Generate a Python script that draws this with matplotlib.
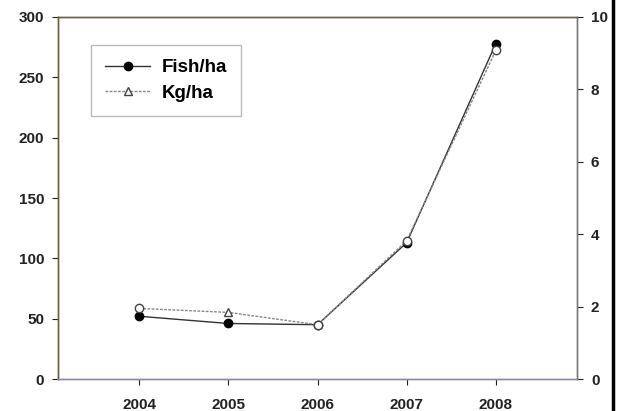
import matplotlib
matplotlib.use("Agg")
import matplotlib.pyplot as plt
from matplotlib.lines import Line2D

# Data
years = [2004, 2005, 2006, 2007, 2008]
fish_per_ha = [52, 46, 45, 113, 278]        # left axis
kg_per_ha = [1.95, 1.84, 1.5, 3.82, 9.08]   # right axis
kg_markers = ["o", "^", "o", "o", "o"]

plt.rcParams["font.family"] = ["Liberation Sans", "DejaVu Sans"]
plt.rcParams["font.weight"] = "bold"

fig = plt.figure(figsize=(6.42, 4.11), dpi=100)
ax = fig.add_axes([58 / 642, 32 / 411, (577 - 58) / 642, (379 - 17) / 411])
ax2 = ax.twinx()

# Fish/ha: solid line, filled circles
ax.plot(years, fish_per_ha, color="#333333", lw=1.0, marker="o", ms=6,
        mfc="black", mec="black", zorder=3)

# Kg/ha: dotted grey line, open markers
ax2.plot(years, kg_per_ha, color="#888888", lw=1.0, ls=(0, (2, 1)), zorder=2)
for x, y, m in zip(years, kg_per_ha, kg_markers):
    ax2.plot(x, y, marker=m, ms=6, mfc="white", mec="#444444", mew=1.0, zorder=3)

ax.set_xlim(2003.09, 2008.91)
ax.set_ylim(0, 300)
ax2.set_ylim(0, 10)
ax.set_xticks(years)
ax.set_yticks(range(0, 301, 50))
ax2.set_yticks(range(0, 11, 2))

ax.tick_params(axis="y", direction="out", length=4, width=0.8, pad=6,
               labelsize=11, colors="#222222")
ax.tick_params(axis="x", direction="out", length=4, width=0.8, pad=10,
               labelsize=11, colors="#222222")
ax2.tick_params(axis="y", direction="out", length=4, width=0.8, pad=6,
                labelsize=11, colors="#222222")

for a in (ax, ax2):
    a.spines["left"].set_color("#6b5e45")
    a.spines["top"].set_color("#6b5e45")
    a.spines["bottom"].set_color("#8a8aa2")
    a.spines["right"].set_color("#7a7a7a")
    for s in a.spines.values():
        s.set_linewidth(1.0)

handles = [
    Line2D([], [], color="#333333", lw=1.0, marker="o", ms=6, mfc="black", mec="black"),
    Line2D([], [], color="#888888", lw=1.0, ls=(0, (2, 1)), marker="^", ms=6,
           mfc="white", mec="#444444"),
]
leg = ax.legend(handles, ["Fish/ha", "Kg/ha"], loc="upper left",
                bbox_to_anchor=(0.0636, 0.9227), borderaxespad=0,
                fontsize=13.5, frameon=True, fancybox=False,
                edgecolor="#aaaaaa", handlelength=2.4, handletextpad=0.6,
                labelspacing=0.45, borderpad=0.75)
leg.get_frame().set_linewidth(1.0)
for t in leg.get_texts():
    t.set_fontweight("bold")

# thick black border line at the right of the image
fig.add_artist(Line2D([613 / 642, 613 / 642], [0, 1], color="black", lw=2.5))

fig.savefig("out.png", dpi=100)
